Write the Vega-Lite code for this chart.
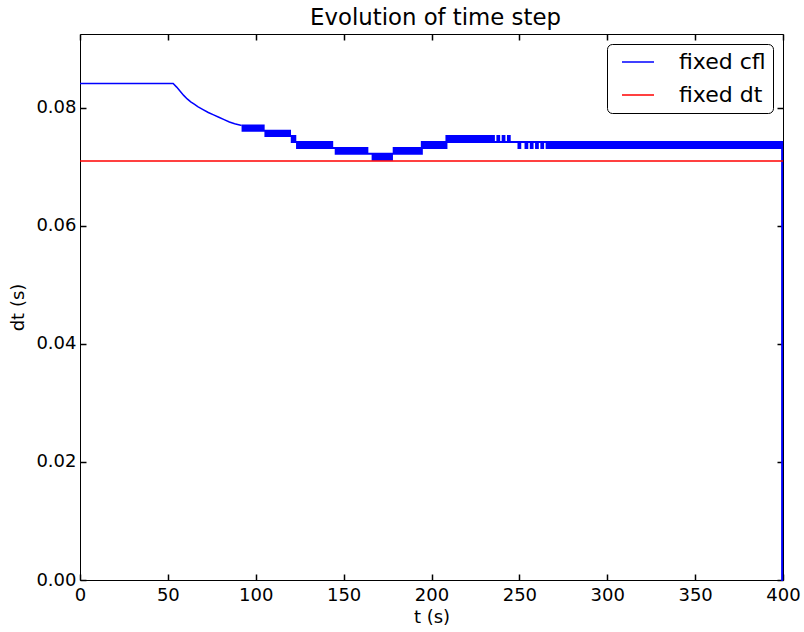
{
"$schema": "https://vega.github.io/schema/vega-lite/v6.json",
"width": 703, "height": 546,
"autosize": {"type": "none"},
"padding": {"left": 80, "top": 34, "right": 21, "bottom": 52},
"background": "white",
"title": {"text": "Evolution of time step", "font": "DejaVu Sans", "fontSize": 22.8, "fontWeight": "normal", "color": "black", "offset": 3, "dx": 4},
"config": {
  "view": {"stroke": "black", "strokeWidth": 1},
  "axis": {"grid": false, "domain": false, "labelFlush": false, "labelOverlap": false, "labelFont": "DejaVu Sans", "labelFontSize": 18, "labelColor": "black", "titleFont": "DejaVu Sans", "titleFontSize": 18, "titleFontWeight": "normal", "titleColor": "black"},
  "legend": {"orient": "top-right", "offset": 10, "fillColor": "white", "strokeColor": "black", "cornerRadius": 5, "padding": 7, "labelFont": "DejaVu Sans", "labelFontSize": 22, "labelColor": "black", "symbolType": "stroke", "symbolStrokeWidth": 1.5, "symbolSize": 1024, "clipHeight": 22, "symbolOffset": 7, "labelOffset": 24, "rowPadding": 11}
},
"datasets": {
"curve": [{"t":0,"v":0.0841},{"t":53,"v":0.0841},{"t":55,"v":0.0835},{"t":57,"v":0.0828},{"t":59,"v":0.0821},{"t":61,"v":0.0815},{"t":63,"v":0.081},{"t":65,"v":0.0806},{"t":67,"v":0.0802},{"t":70,"v":0.0797},{"t":73,"v":0.0792},{"t":76,"v":0.0788},{"t":79,"v":0.0784},{"t":82,"v":0.078},{"t":85,"v":0.0776},{"t":88,"v":0.0773},{"t":92,"v":0.077}],
"band": [
{"t":92,"v":0.077},{"t":93,"v":0.0761},{"t":94,"v":0.077},{"t":95,"v":0.0761},{"t":96,"v":0.077},{"t":97,"v":0.0761},{"t":98,"v":0.077},{"t":99,"v":0.0761},{"t":100,"v":0.077},{"t":101,"v":0.0761},{"t":102,"v":0.077},{"t":103,"v":0.0761},{"t":104,"v":0.077},
{"t":105,"v":0.0761},{"t":106,"v":0.0752},{"t":107,"v":0.0761},{"t":108,"v":0.0752},{"t":109,"v":0.0761},{"t":110,"v":0.0752},{"t":111,"v":0.0761},{"t":112,"v":0.0752},{"t":113,"v":0.0761},{"t":114,"v":0.0752},{"t":115,"v":0.0761},{"t":116,"v":0.0752},{"t":117,"v":0.0761},{"t":118,"v":0.0752},{"t":119,"v":0.0761},{"t":120,"v":0.0752},
{"t":121,"v":0.0742},{"t":122,"v":0.0752},
{"t":123,"v":0.0742},{"t":124,"v":0.0732},{"t":125,"v":0.0742},{"t":126,"v":0.0732},{"t":127,"v":0.0742},{"t":128,"v":0.0732},{"t":129,"v":0.0742},{"t":130,"v":0.0732},{"t":131,"v":0.0742},{"t":132,"v":0.0732},{"t":133,"v":0.0742},{"t":134,"v":0.0732},{"t":135,"v":0.0742},{"t":136,"v":0.0732},{"t":137,"v":0.0742},{"t":138,"v":0.0732},{"t":139,"v":0.0742},{"t":140,"v":0.0732},{"t":141,"v":0.0742},{"t":142,"v":0.0732},{"t":143,"v":0.0742},{"t":144,"v":0.0732},
{"t":145,"v":0.0732},{"t":146,"v":0.0722},{"t":147,"v":0.0732},{"t":148,"v":0.0722},{"t":149,"v":0.0732},{"t":150,"v":0.0722},{"t":151,"v":0.0732},{"t":152,"v":0.0722},{"t":153,"v":0.0732},{"t":154,"v":0.0722},{"t":155,"v":0.0732},{"t":156,"v":0.0722},{"t":157,"v":0.0732},{"t":158,"v":0.0722},{"t":159,"v":0.0732},{"t":160,"v":0.0722},{"t":161,"v":0.0732},{"t":162,"v":0.0722},{"t":163,"v":0.0732},
{"t":164,"v":0.0722},{"t":165,"v":0.0722},
{"t":166,"v":0.0722},{"t":167,"v":0.0712},{"t":168,"v":0.0722},{"t":169,"v":0.0712},{"t":170,"v":0.0722},{"t":171,"v":0.0712},{"t":172,"v":0.0722},{"t":173,"v":0.0712},{"t":174,"v":0.0722},{"t":175,"v":0.0712},{"t":176,"v":0.0722},{"t":177,"v":0.0712},
{"t":178,"v":0.0722},
{"t":179,"v":0.0732},{"t":180,"v":0.0722},{"t":181,"v":0.0732},{"t":182,"v":0.0722},{"t":183,"v":0.0732},{"t":184,"v":0.0722},{"t":185,"v":0.0732},{"t":186,"v":0.0722},{"t":187,"v":0.0732},{"t":188,"v":0.0722},{"t":189,"v":0.0732},{"t":190,"v":0.0722},{"t":191,"v":0.0732},{"t":192,"v":0.0722},{"t":193,"v":0.0732},{"t":194,"v":0.0722},
{"t":195,"v":0.0742},{"t":196,"v":0.0732},{"t":197,"v":0.0742},{"t":198,"v":0.0732},{"t":199,"v":0.0742},{"t":200,"v":0.0732},{"t":201,"v":0.0742},{"t":202,"v":0.0732},{"t":203,"v":0.0742},{"t":204,"v":0.0732},{"t":205,"v":0.0742},{"t":206,"v":0.0732},{"t":207,"v":0.0742},{"t":208,"v":0.0732},
{"t":209,"v":0.0752},{"t":210,"v":0.0742},{"t":211,"v":0.0752},{"t":212,"v":0.0742},{"t":213,"v":0.0752},{"t":214,"v":0.0742},{"t":215,"v":0.0752},{"t":216,"v":0.0742},{"t":217,"v":0.0752},{"t":218,"v":0.0742},{"t":219,"v":0.0752},{"t":220,"v":0.0742},{"t":221,"v":0.0752},{"t":222,"v":0.0742},{"t":223,"v":0.0752},{"t":224,"v":0.0742},{"t":225,"v":0.0752},{"t":226,"v":0.0742},{"t":227,"v":0.0752},{"t":228,"v":0.0742},{"t":229,"v":0.0752},{"t":230,"v":0.0742},{"t":231,"v":0.0752},{"t":232,"v":0.0742},{"t":233,"v":0.0752},{"t":234,"v":0.0742},{"t":235,"v":0.0752},{"t":236,"v":0.0742},
{"t":237,"v":0.0742},{"t":238,"v":0.0752},{"t":239,"v":0.0742},{"t":240,"v":0.0742},{"t":241,"v":0.0752},{"t":242,"v":0.0742},{"t":243,"v":0.0742},{"t":244,"v":0.0752},{"t":245,"v":0.0742},{"t":246,"v":0.0742},{"t":247,"v":0.0742},{"t":248,"v":0.0742},{"t":249,"v":0.0742},
{"t":250,"v":0.0732},{"t":251,"v":0.0742},{"t":252,"v":0.0742},{"t":253,"v":0.0742},{"t":254,"v":0.0732},{"t":255,"v":0.0742},{"t":256,"v":0.0742},{"t":257,"v":0.0732},{"t":258,"v":0.0742},{"t":259,"v":0.0742},{"t":260,"v":0.0732},{"t":261,"v":0.0742},{"t":262,"v":0.0742},{"t":263,"v":0.0732},{"t":264,"v":0.0742},{"t":265,"v":0.0742},{"t":266,"v":0.0732},{"t":267,"v":0.0742},{"t":268,"v":0.0732},{"t":269,"v":0.0742},{"t":270,"v":0.0732},{"t":271,"v":0.0742},
{"t":272,"v":0.0732},{"t":273,"v":0.0742},{"t":274,"v":0.0732},{"t":275,"v":0.0742},{"t":276,"v":0.0732},{"t":277,"v":0.0742},{"t":278,"v":0.0732},{"t":279,"v":0.0742},{"t":280,"v":0.0732},{"t":281,"v":0.0742},{"t":282,"v":0.0732},{"t":283,"v":0.0742},{"t":284,"v":0.0732},{"t":285,"v":0.0742},{"t":286,"v":0.0732},{"t":287,"v":0.0742},{"t":288,"v":0.0732},{"t":289,"v":0.0742},{"t":290,"v":0.0732},{"t":291,"v":0.0742},{"t":292,"v":0.0732},{"t":293,"v":0.0742},{"t":294,"v":0.0732},{"t":295,"v":0.0742},{"t":296,"v":0.0732},{"t":297,"v":0.0742},{"t":298,"v":0.0732},{"t":299,"v":0.0742},
{"t":300,"v":0.0732},{"t":301,"v":0.0742},{"t":302,"v":0.0732},{"t":303,"v":0.0742},{"t":304,"v":0.0732},{"t":305,"v":0.0742},{"t":306,"v":0.0732},{"t":307,"v":0.0742},{"t":308,"v":0.0732},{"t":309,"v":0.0742},{"t":310,"v":0.0732},{"t":311,"v":0.0742},{"t":312,"v":0.0732},{"t":313,"v":0.0742},{"t":314,"v":0.0732},{"t":315,"v":0.0742},{"t":316,"v":0.0732},{"t":317,"v":0.0742},{"t":318,"v":0.0732},{"t":319,"v":0.0742},{"t":320,"v":0.0732},{"t":321,"v":0.0742},{"t":322,"v":0.0732},{"t":323,"v":0.0742},{"t":324,"v":0.0732},{"t":325,"v":0.0742},{"t":326,"v":0.0732},{"t":327,"v":0.0742},{"t":328,"v":0.0732},{"t":329,"v":0.0742},
{"t":330,"v":0.0732},{"t":331,"v":0.0742},{"t":332,"v":0.0732},{"t":333,"v":0.0742},{"t":334,"v":0.0732},{"t":335,"v":0.0742},{"t":336,"v":0.0732},{"t":337,"v":0.0742},{"t":338,"v":0.0732},{"t":339,"v":0.0742},{"t":340,"v":0.0732},{"t":341,"v":0.0742},{"t":342,"v":0.0732},{"t":343,"v":0.0742},{"t":344,"v":0.0732},{"t":345,"v":0.0742},{"t":346,"v":0.0732},{"t":347,"v":0.0742},{"t":348,"v":0.0732},{"t":349,"v":0.0742},{"t":350,"v":0.0732},{"t":351,"v":0.0742},{"t":352,"v":0.0732},{"t":353,"v":0.0742},{"t":354,"v":0.0732},{"t":355,"v":0.0742},{"t":356,"v":0.0732},{"t":357,"v":0.0742},{"t":358,"v":0.0732},{"t":359,"v":0.0742},
{"t":360,"v":0.0732},{"t":361,"v":0.0742},{"t":362,"v":0.0732},{"t":363,"v":0.0742},{"t":364,"v":0.0732},{"t":365,"v":0.0742},{"t":366,"v":0.0732},{"t":367,"v":0.0742},{"t":368,"v":0.0732},{"t":369,"v":0.0742},{"t":370,"v":0.0732},{"t":371,"v":0.0742},{"t":372,"v":0.0732},{"t":373,"v":0.0742},{"t":374,"v":0.0732},{"t":375,"v":0.0742},{"t":376,"v":0.0732},{"t":377,"v":0.0742},{"t":378,"v":0.0732},{"t":379,"v":0.0742},{"t":380,"v":0.0732},{"t":381,"v":0.0742},{"t":382,"v":0.0732},{"t":383,"v":0.0742},{"t":384,"v":0.0732},{"t":385,"v":0.0742},{"t":386,"v":0.0732},{"t":387,"v":0.0742},{"t":388,"v":0.0732},{"t":389,"v":0.0742},
{"t":390,"v":0.0732},{"t":391,"v":0.0742},{"t":392,"v":0.0732},{"t":393,"v":0.0742},{"t":394,"v":0.0732},{"t":395,"v":0.0742},{"t":396,"v":0.0732},{"t":397,"v":0.0742},{"t":398,"v":0.0732},{"t":399,"v":0.0742},{"t":400,"v":0}
],
"dt": [{"t":0,"v":0.071},{"t":400,"v":0.071}]
},
"layer": [
  {
    "data": {"name": "curve"},
    "mark": {"type": "line", "strokeWidth": 1.5},
    "encoding": {
      "x": {"field": "t", "type": "quantitative", "scale": {"domain": [0, 400], "nice": false}, "axis": {"orient": "bottom", "values": [0,50,100,150,200,250,300,350,400], "ticks": false, "title": "t (s)", "labelPadding": 6, "titlePadding": 4}},
      "y": {"field": "v", "type": "quantitative", "scale": {"domain": [0, 0.0925], "nice": false}, "axis": {"orient": "left", "values": [0,0.02,0.04,0.06,0.08], "format": ".2f", "ticks": false, "title": "dt (s)", "labelPadding": 4, "titlePadding": 8}},
      "color": {"datum": "fixed cfl", "type": "nominal", "scale": {"domain": ["fixed cfl", "fixed dt"], "range": ["#0000ff", "#ff0000"]}, "legend": {"title": null}}
    }
  },
  {
    "data": {"name": "band"},
    "mark": {"type": "line", "strokeWidth": 2, "interpolate": "step"},
    "encoding": {
      "x": {"field": "t", "type": "quantitative", "axis": {"orient": "top", "offset": -546, "ticks": true, "tickSize": 6, "tickColor": "black", "tickWidth": 1.5, "values": [0,50,100,150,200,250,300,350,400], "labels": false, "title": null}},
      "y": {"field": "v", "type": "quantitative", "axis": {"orient": "right", "offset": -703, "ticks": true, "tickSize": 6, "tickColor": "black", "tickWidth": 1.5, "values": [0,0.02,0.04,0.06,0.08], "labels": false, "title": null}},
      "color": {"datum": "fixed cfl", "type": "nominal"}
    }
  },
  {
    "data": {"name": "dt"},
    "mark": {"type": "line", "strokeWidth": 1.5},
    "encoding": {
      "x": {"field": "t", "type": "quantitative", "axis": {"orient": "bottom", "offset": -546, "ticks": true, "tickSize": 6, "tickColor": "black", "tickWidth": 1.5, "values": [0,50,100,150,200,250,300,350,400], "labels": false, "title": null}},
      "y": {"field": "v", "type": "quantitative", "axis": {"orient": "left", "offset": -703, "ticks": true, "tickSize": 6, "tickColor": "black", "tickWidth": 1.5, "values": [0,0.02,0.04,0.06,0.08], "labels": false, "title": null}},
      "color": {"datum": "fixed dt", "type": "nominal"}
    }
  }
],
"resolve": {"axis": {"x": "independent", "y": "independent"}}
}
